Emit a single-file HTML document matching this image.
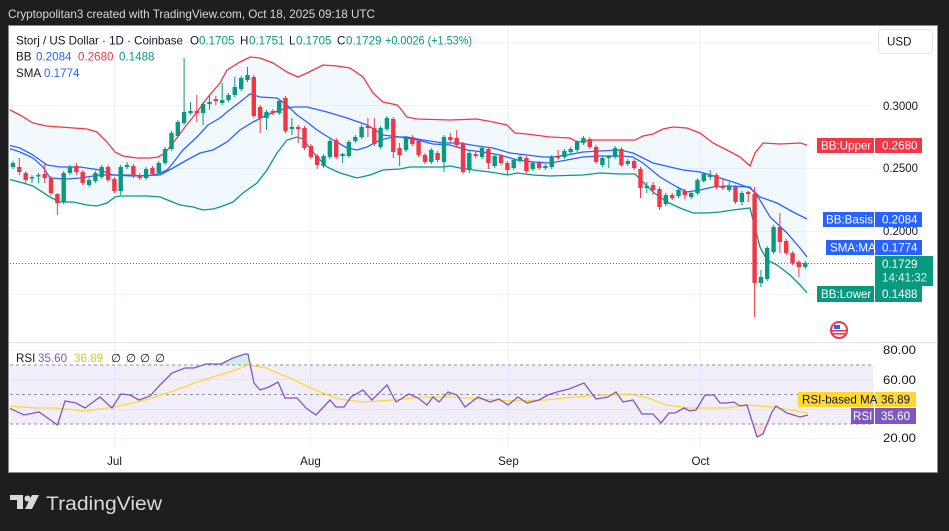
<!DOCTYPE html>
<html><head><meta charset="utf-8"><style>
html,body{margin:0;padding:0;background:#1e1e1e;}
svg{display:block;font-family:"Liberation Sans",sans-serif;}
</style></head><body>
<svg width="949" height="531" viewBox="0 0 949 531" xmlns="http://www.w3.org/2000/svg">
<defs>
<clipPath id="cp"><rect x="10" y="26" width="863" height="315"/></clipPath>
<clipPath id="cr"><rect x="10" y="343" width="863" height="104"/></clipPath>
</defs>
<rect x="0" y="0" width="949" height="531" fill="#1e1e1e"/>
<text x="8" y="18" font-size="12" fill="#d8d8d8" textLength="367" lengthAdjust="spacingAndGlyphs">Cryptopolitan3 created with TradingView.com, Oct 18, 2025 09:18 UTC</text>
<rect x="8.5" y="25.5" width="929" height="447" fill="#ffffff" stroke="#8a8c93" stroke-width="1"/>

<!-- grid -->
<g stroke="#f0f3fa" stroke-width="1">
<line x1="10" y1="42.5" x2="873" y2="42.5"/>
<line x1="10" y1="105.5" x2="873" y2="105.5"/>
<line x1="10" y1="168.5" x2="873" y2="168.5"/>
<line x1="10" y1="231.5" x2="873" y2="231.5"/>
<line x1="10" y1="294.5" x2="873" y2="294.5"/>
<line x1="10" y1="350.5" x2="873" y2="350.5"/>
<line x1="10" y1="379.5" x2="873" y2="379.5"/>
<line x1="10" y1="409.5" x2="873" y2="409.5"/>
<line x1="10" y1="438.5" x2="873" y2="438.5"/>
<line x1="114.5" y1="26" x2="114.5" y2="447"/>
<line x1="310.5" y1="26" x2="310.5" y2="447"/>
<line x1="508.5" y1="26" x2="508.5" y2="447"/>
<line x1="700.5" y1="26" x2="700.5" y2="447"/>
</g>
<line x1="9" y1="342.5" x2="937" y2="342.5" stroke="#e0e3eb" stroke-width="1"/>

<!-- price pane -->
<g clip-path="url(#cp)">
<polygon fill="rgba(33,150,243,0.06)" points="8,109 20,115 33,123 47,126 60,127 87,129 97,132 107,142 115,152 123,156 137,158 150,158 158,157 165,153 173,143 185,127 197,112 208,97 220,83 227,70 240,62 250,57 260,58 273,63 287,72 298,77 307,73 323,65 337,66 350,68 363,77 373,93 383,102 397,105 400,108 407,117 417,119 450,120 477,119 493,122 507,125 515,133 527,134 550,137 570,138 577,142 593,140 620,140 635,140 643,136 653,134 663,129 673,127 687,128 700,133 713,143 727,150 740,157 750,166 755,153 763,143 780,144 800,143 807,145 807,293 800,285 790,275 777,265 767,260 760,247 753,220 750,208 733,210 720,212 707,213 693,213 680,208 667,202 653,192 643,182 635,174 620,174 600,173 583,175 550,176 533,175 517,173 508,175 490,172 473,170 460,168 450,166 443,167 410,167 400,169 383,170 370,175 357,178 340,173 327,167 317,157 303,139 297,137 287,140 277,153 267,170 257,183 243,193 233,202 220,207 213,209 203,210 193,207 180,205 170,201 160,197 147,196 120,196 115,197 107,203 97,206 87,205 73,202 60,202 50,197 33,186 23,183 8,179"/>
<polyline fill="none" stroke="#f23645" stroke-width="1.3" points="8,109 20,115 33,123 47,126 60,127 87,129 97,132 107,142 115,152 123,156 137,158 150,158 158,157 165,153 173,143 185,127 197,112 208,97 220,83 227,70 240,62 250,57 260,58 273,63 287,72 298,77 307,73 323,65 337,66 350,68 363,77 373,93 383,102 397,105 400,108 407,117 417,119 450,120 477,119 493,122 507,125 515,133 527,134 550,137 570,138 577,142 593,140 620,140 635,140 643,136 653,134 663,129 673,127 687,128 700,133 713,143 727,150 740,157 750,166 755,153 763,143 780,144 800,143 807,145"/>
<polyline fill="none" stroke="#089981" stroke-width="1.3" points="8,179 23,183 33,186 50,197 60,202 73,202 87,205 97,206 107,203 115,197 120,196 147,196 160,197 170,201 180,205 193,207 203,210 213,209 220,207 233,202 243,193 257,183 267,170 277,153 287,140 297,137 303,139 317,157 327,167 340,173 357,178 370,175 383,170 400,169 410,167 443,167 450,166 460,168 473,170 490,172 508,175 517,173 533,175 550,176 583,175 600,173 620,174 635,174 643,182 653,192 667,202 680,208 693,213 707,213 720,212 733,210 750,208 753,220 760,247 767,260 777,265 790,275 800,285 807,293"/>
<polyline fill="none" stroke="#2962ff" stroke-width="1.3" points="8,145 20,148 33,155 47,165 60,167 80,167 100,170 113,175 127,175 147,176 158,174 167,170 173,163 183,150 197,137 208,125 220,118 227,112 240,102 250,94 260,97 277,98 287,105 297,115 307,122 317,130 333,140 347,148 357,150 367,147 380,140 393,137 407,137 423,140 443,143 460,143 477,146 493,148 510,153 527,155 543,157 553,157 567,155 583,152 600,151 620,150 633,153 653,163 683,170 700,172 717,177 733,182 750,188 760,197 777,203 793,212 807,219"/>
<polyline fill="none" stroke="#2962ff" stroke-width="1.3" points="8,148 20,152 33,158 43,167 50,178 67,179 80,178 100,175 113,175 133,176 160,175 173,168 187,160 200,153 213,150 227,142 240,130 253,122 267,115 280,110 293,107 307,107 327,112 347,118 367,125 383,135 400,137 417,140 433,144 450,145 467,150 483,152 500,155 517,160 533,162 550,163 567,160 583,157 600,156 620,156 633,157 643,163 660,177 677,187 687,192 700,190 713,187 727,186 750,187 760,200 770,217 787,233 800,248 807,257"/>
<line x1="10" y1="263.5" x2="873" y2="263.5" stroke="#089981" stroke-width="1" stroke-dasharray="1 2"/>
<path fill="none" stroke="#089981" stroke-width="1" d="M13 161V169M32 175V183M38.4 173V183M63.7 171V204M70 165V175M89.1 178V187M95.4 171V183M101.7 165V179M120.7 165V195M127.1 162V169M146.1 167V180M158.8 161V175M165.1 147V165M171.5 131V151M177.8 120V138M184.1 58V125M190.5 102V115M203.1 102V125M209.5 95V110M222.2 83V105M228.5 93V102M234.8 77V97M241.2 76V91M247.5 67V82M266.5 110V130M279.2 99V115M291.9 118V135M323.6 154V168M329.9 139V159M342.6 153V163M348.9 140V158M355.3 135V143M361.6 125V139M380.6 126V149M386.9 116V131M406 136V152M431.3 148V164M444 135V172M469.3 151V173M482 146V159M494.7 154V168M513.7 158V170M520 155V163M532.7 161V171M545.4 164V170M551.7 155V169M564.4 149V159M570.7 147V154M577.1 140V152M583.4 136V145M602.4 156V167M608.8 155V168M615.1 146V159M627.8 159V166M646.8 182V193M665.8 193V206M678.5 188V198M691.2 191V199M697.5 178V195M703.8 172V183M710.2 170V180M729.2 182V192M741.9 191V205M760.9 270V287M767.2 246V281M773.6 225V254M805.3 261V269"/>
<g fill="#089981">
<rect x="10.8" y="163" width="4.4" height="4"/><rect x="29.8" y="177" width="4.4" height="1.5"/><rect x="36.2" y="175" width="4.4" height="1.5"/><rect x="61.5" y="173" width="4.4" height="29"/><rect x="67.8" y="167" width="4.4" height="6"/><rect x="86.9" y="180" width="4.4" height="5"/><rect x="93.2" y="173" width="4.4" height="8"/><rect x="99.5" y="167" width="4.4" height="10"/><rect x="118.5" y="167" width="4.4" height="24"/><rect x="124.9" y="165" width="4.4" height="2"/><rect x="143.9" y="169" width="4.4" height="9"/><rect x="156.6" y="163" width="4.4" height="10"/><rect x="162.9" y="149" width="4.4" height="14"/><rect x="169.3" y="133" width="4.4" height="16"/><rect x="175.6" y="122" width="4.4" height="14"/><rect x="181.9" y="112" width="4.4" height="11"/><rect x="188.3" y="111" width="4.4" height="2"/><rect x="200.9" y="104" width="4.4" height="9"/><rect x="207.3" y="102" width="4.4" height="2"/><rect x="220" y="100" width="4.4" height="3"/><rect x="226.3" y="95" width="4.4" height="5"/><rect x="232.6" y="87" width="4.4" height="8"/><rect x="239" y="78" width="4.4" height="11"/><rect x="245.3" y="75" width="4.4" height="5"/><rect x="264.3" y="112" width="4.4" height="6"/><rect x="277" y="101" width="4.4" height="12"/><rect x="289.7" y="127" width="4.4" height="2"/><rect x="321.4" y="156" width="4.4" height="10"/><rect x="327.7" y="141" width="4.4" height="16"/><rect x="340.4" y="154" width="4.4" height="2"/><rect x="346.7" y="142" width="4.4" height="14"/><rect x="353.1" y="137" width="4.4" height="4"/><rect x="359.4" y="127" width="4.4" height="10"/><rect x="378.4" y="128" width="4.4" height="19"/><rect x="384.7" y="118" width="4.4" height="11"/><rect x="403.8" y="138" width="4.4" height="12"/><rect x="429.1" y="150" width="4.4" height="12"/><rect x="441.8" y="137" width="4.4" height="25"/><rect x="467.1" y="153" width="4.4" height="17"/><rect x="479.8" y="148" width="4.4" height="9"/><rect x="492.5" y="156" width="4.4" height="10"/><rect x="511.5" y="160" width="4.4" height="8"/><rect x="517.8" y="157" width="4.4" height="4"/><rect x="530.5" y="163" width="4.4" height="6"/><rect x="543.2" y="166" width="4.4" height="2"/><rect x="549.5" y="157" width="4.4" height="10"/><rect x="562.2" y="151" width="4.4" height="6"/><rect x="568.5" y="149" width="4.4" height="3"/><rect x="574.9" y="142" width="4.4" height="8"/><rect x="581.2" y="138" width="4.4" height="5"/><rect x="600.2" y="158" width="4.4" height="7"/><rect x="606.6" y="156" width="4.4" height="2"/><rect x="612.9" y="148" width="4.4" height="9"/><rect x="625.6" y="161" width="4.4" height="3"/><rect x="644.6" y="186" width="4.4" height="2"/><rect x="663.6" y="195" width="4.4" height="9"/><rect x="676.3" y="190" width="4.4" height="6"/><rect x="689" y="193" width="4.4" height="4"/><rect x="695.3" y="180" width="4.4" height="13"/><rect x="701.6" y="174" width="4.4" height="7"/><rect x="708" y="175" width="4.4" height="2"/><rect x="727" y="186" width="4.4" height="4"/><rect x="739.7" y="193" width="4.4" height="9"/><rect x="758.7" y="277" width="4.4" height="6"/><rect x="765" y="248" width="4.4" height="31"/><rect x="771.4" y="227" width="4.4" height="25"/><rect x="803.1" y="263" width="4.4" height="4"/>
</g>
<path fill="none" stroke="#f23645" stroke-width="1" d="M19.3 158V175M25.7 171V183M44.7 163V183M51 176V195M57.4 193V215M76.4 163V175M82.7 170V185M108.1 165V182M114.4 177V193M133.4 164V178M139.8 173V180M152.4 166V176M196.8 95V122M215.8 96V105M253.8 75V118M260.2 105V133M272.9 109V115M285.5 96V133M298.2 125V143M304.5 126V150M310.9 144V159M317.2 154V169M336.2 138V159M367.9 118V137M374.3 118V146M393.3 117V158M399.6 143V166M412.3 135V146M418.6 139V157M425 153V164M437.6 151V162M450.3 133V142M456.7 130V147M463 142V174M475.7 152V158M488.4 147V169M501 154V165M507.4 161V175M526.4 156V173M539.1 161V170M558.1 150V160M589.8 137V149M596.1 145V164M621.4 147V167M634.1 159V170M640.5 167V198M653.1 182V195M659.5 187V210M672.2 193V200M684.8 189V199M716.5 173V189M722.9 178V190M735.5 185V204M748.2 191V202M754.6 187V317M779.9 213V253M786.2 239V255M792.6 251V265M798.9 260V277"/>
<g fill="#f23645">
<rect x="17.1" y="167" width="4.4" height="5"/><rect x="23.5" y="173" width="4.4" height="7"/><rect x="42.5" y="174" width="4.4" height="4"/><rect x="48.8" y="178" width="4.4" height="15"/><rect x="55.2" y="194" width="4.4" height="9"/><rect x="74.2" y="166" width="4.4" height="6"/><rect x="80.5" y="172" width="4.4" height="11"/><rect x="105.9" y="167" width="4.4" height="13"/><rect x="112.2" y="179" width="4.4" height="12"/><rect x="131.2" y="166" width="4.4" height="10"/><rect x="137.6" y="175" width="4.4" height="3"/><rect x="150.2" y="168" width="4.4" height="6"/><rect x="194.6" y="111" width="4.4" height="2"/><rect x="213.6" y="99" width="4.4" height="2"/><rect x="251.6" y="77" width="4.4" height="39"/><rect x="258" y="107" width="4.4" height="11"/><rect x="270.7" y="111" width="4.4" height="2"/><rect x="283.3" y="98" width="4.4" height="33"/><rect x="296" y="127" width="4.4" height="2"/><rect x="302.3" y="128" width="4.4" height="20"/><rect x="308.7" y="146" width="4.4" height="11"/><rect x="315" y="156" width="4.4" height="9"/><rect x="334" y="140" width="4.4" height="17"/><rect x="365.7" y="126" width="4.4" height="2"/><rect x="372.1" y="128" width="4.4" height="16"/><rect x="391.1" y="119" width="4.4" height="33"/><rect x="397.4" y="148" width="4.4" height="7"/><rect x="410.1" y="137" width="4.4" height="7"/><rect x="416.4" y="141" width="4.4" height="14"/><rect x="422.8" y="155" width="4.4" height="7"/><rect x="435.4" y="153" width="4.4" height="7"/><rect x="448.1" y="137" width="4.4" height="3"/><rect x="454.5" y="138" width="4.4" height="7"/><rect x="460.8" y="144" width="4.4" height="28"/><rect x="473.5" y="154" width="4.4" height="2"/><rect x="486.2" y="149" width="4.4" height="14"/><rect x="498.8" y="156" width="4.4" height="7"/><rect x="505.2" y="163" width="4.4" height="7"/><rect x="524.2" y="158" width="4.4" height="13"/><rect x="536.9" y="163" width="4.4" height="5"/><rect x="555.9" y="156" width="4.4" height="2"/><rect x="587.6" y="139" width="4.4" height="8"/><rect x="593.9" y="147" width="4.4" height="15"/><rect x="619.2" y="149" width="4.4" height="16"/><rect x="631.9" y="161" width="4.4" height="7"/><rect x="638.3" y="169" width="4.4" height="19"/><rect x="650.9" y="185" width="4.4" height="5"/><rect x="657.3" y="189" width="4.4" height="18"/><rect x="670" y="195" width="4.4" height="3"/><rect x="682.6" y="191" width="4.4" height="4"/><rect x="714.3" y="175" width="4.4" height="12"/><rect x="720.7" y="186" width="4.4" height="2"/><rect x="733.3" y="187" width="4.4" height="15"/><rect x="746" y="192" width="4.4" height="2"/><rect x="752.4" y="194" width="4.4" height="89"/><rect x="777.7" y="227" width="4.4" height="15"/><rect x="784" y="241" width="4.4" height="12"/><rect x="790.4" y="253" width="4.4" height="10"/><rect x="796.7" y="262" width="4.4" height="5"/>
</g>
</g>

<!-- legend -->
<g font-size="11.6">
<text x="16" y="44.5" fill="#131722" textLength="167" lengthAdjust="spacingAndGlyphs">Storj / US Dollar · 1D · Coinbase</text>
<text x="190" y="44.5" fill="#131722">O</text><text x="199" y="44.5" fill="#089981">0.1705</text>
<text x="240" y="44.5" fill="#131722">H</text><text x="249" y="44.5" fill="#089981">0.1751</text>
<text x="289" y="44.5" fill="#131722">L</text><text x="296" y="44.5" fill="#089981">0.1705</text>
<text x="337" y="44.5" fill="#131722">C</text><text x="346" y="44.5" fill="#089981">0.1729</text>
<text x="385" y="44.5" fill="#089981" textLength="87" lengthAdjust="spacingAndGlyphs">+0.0026 (+1.53%)</text>
<text x="16" y="60.5" fill="#131722">BB</text>
<text x="36" y="60.5" fill="#2962ff">0.2084</text>
<text x="78" y="60.5" fill="#f23645">0.2680</text>
<text x="119" y="60.5" fill="#089981">0.1488</text>
<text x="16" y="77" fill="#131722">SMA</text>
<text x="44" y="77" fill="#2962ff">0.1774</text>
</g>

<!-- price axis -->
<rect x="878.5" y="29.5" width="54" height="24" rx="4" fill="#fff" stroke="#e0e3eb"/>
<text x="887" y="45.5" font-size="11.6" fill="#131722">USD</text>
<g font-size="11.5" fill="#131722">
<text x="883" y="110" textLength="35" lengthAdjust="spacingAndGlyphs">0.3000</text>
<text x="883" y="172" textLength="35" lengthAdjust="spacingAndGlyphs">0.2500</text>
<text x="883" y="235" textLength="35" lengthAdjust="spacingAndGlyphs">0.2000</text>
</g>
<g font-size="11.6" fill="#ffffff">
<rect x="817" y="138" width="57" height="15" fill="#f23645"/><rect x="875" y="138" width="47" height="15" fill="#f23645"/>
<text x="821" y="149.5">BB:Upper</text><text x="882" y="149.5">0.2680</text>
<rect x="823" y="212" width="51" height="15" fill="#2962ff"/><rect x="875" y="212" width="47" height="15" fill="#2962ff"/>
<text x="826" y="223.5">BB:Basis</text><text x="882" y="223.5">0.2084</text>
<rect x="826" y="240" width="48" height="15" fill="#2962ff"/><rect x="875" y="240" width="47" height="15" fill="#2962ff"/>
<text x="830" y="251.5">SMA:MA</text><text x="882" y="251.5">0.1774</text>
<rect x="875" y="256" width="58" height="30" fill="#089981"/>
<text x="882" y="268">0.1729</text><text x="882" y="281.5" fill="#d9f2ec">14:41:32</text>
<rect x="817" y="286" width="57" height="16" fill="#089981"/><rect x="875" y="286" width="47" height="16" fill="#089981"/>
<text x="821" y="298">BB:Lower</text><text x="882" y="298">0.1488</text>
</g>
<!-- flag -->
<g>
<circle cx="839" cy="330" r="9" fill="#f23645"/>
<circle cx="839" cy="330" r="7" fill="#fff"/>
<rect x="832" y="330" width="14" height="1.6" fill="#f23645"/>
<rect x="832" y="333" width="14" height="1.6" fill="#f23645"/>
<rect x="834" y="325" width="6" height="4" fill="#2962ff"/>
</g>

<!-- RSI pane -->
<rect x="10" y="365" width="863" height="59" fill="rgba(126,87,194,0.1)"/>
<g stroke="#787b86" stroke-width="1" stroke-dasharray="3 3" opacity="0.8">
<line x1="10" y1="365" x2="873" y2="365"/>
<line x1="10" y1="394.5" x2="873" y2="394.5"/>
<line x1="10" y1="424" x2="873" y2="424"/>
</g>
<g clip-path="url(#cr)">
<polygon fill="rgba(8,153,129,0.18)" points="204,365 206,364 221,364 233,358 245,354 248,354 249.5,365"/>
<polygon fill="rgba(242,54,69,0.18)" points="753,424 757,437 763,434 767,424"/>
<polyline fill="none" stroke="#fdd835" stroke-width="1.3" points="9,406 36,408 54,408 85,411 115,407 145,400 176,390 206,379 230,372 248,365 266,368 290,378 315,390 339,399 363,402 393,400 424,397 454,397 478,399 514,401 545,400 575,397 605,395 630,394 648,398 666,405 690,408 726,408 748,405 773,407 790,410 808,413"/>
<polyline fill="none" stroke="#7e57c2" stroke-width="1.3" points="9,408 24,415 39,412 57.5,425 65,401 76,403 85,408 100,397 112,408 121,394 130,395 139,400 150,396 160,385 172,373 185,368 194,368 206,364 221,364 233,358 245,354 248,354 254,383 260,390 269,387 278,382 285,398 297,398 306,408 316,415 330,400 336,407 344,407 351,397 363,390 372,400 387,385 396,402 409,394 418,398 427,405 433,397 439,402 448,392 457,395 465,407 478,397 490,402 499,399 508,405 518,397 527,403 539,400 548,395 557,392 569,389 584,383 596,399 608,397 616,392 623,402 633,400 642,414 653,414 661,423 669,413 675,413 684,408 690,411 696,410 705,395 714,395 720,403 726,403 734,402 740,406 747,405 757,437 763,434 772,412 776,406 787,413 800,417 808,415"/>
</g>
<g font-size="11.6">
<text x="16" y="362" fill="#131722">RSI</text>
<text x="38" y="362" fill="#7e57c2">35.60</text>
<text x="74" y="362" fill="#e6c619">36.89</text>
<text x="111" y="362" fill="#131722">∅</text>
<text x="126" y="362" fill="#131722">∅</text>
<text x="140" y="362" fill="#131722">∅</text>
<text x="155" y="362" fill="#131722">∅</text>
</g>
<g font-size="11.5" fill="#131722">
<text x="883" y="354" textLength="33" lengthAdjust="spacingAndGlyphs">80.00</text>
<text x="883" y="384" textLength="33" lengthAdjust="spacingAndGlyphs">60.00</text>
<text x="883" y="442" textLength="33" lengthAdjust="spacingAndGlyphs">20.00</text>
</g>
<g font-size="11.6">
<rect x="798" y="392" width="76" height="15" fill="#fdd835"/><rect x="875" y="392" width="41" height="15" fill="#fdd835"/>
<text x="802" y="403.5" fill="#131722">RSI-based MA</text><text x="881" y="403.5" fill="#131722">36.89</text>
<rect x="851" y="408" width="23" height="16" fill="#7e57c2"/><rect x="875" y="408" width="41" height="16" fill="#7e57c2"/>
<text x="853" y="420" fill="#fff">RSI</text><text x="881" y="420" fill="#fff">35.60</text>
</g>

<!-- time axis -->
<g font-size="11.6" fill="#131722" text-anchor="middle">
<text x="114.5" y="465">Jul</text>
<text x="310.5" y="465">Aug</text>
<text x="508.5" y="465">Sep</text>
<text x="700.5" y="465">Oct</text>
</g>

<!-- TradingView logo -->
<g fill="#d9d9d9">
<path d="M10 495H23V509H17V500H10Z"/>
<circle cx="27.5" cy="498.5" r="3"/>
<path d="M32 495H39L32 509H25Z"/>
</g>
<text x="46" y="510" font-size="19" fill="#d9d9d9" textLength="116" lengthAdjust="spacingAndGlyphs">TradingView</text>
</svg>
</body></html>
